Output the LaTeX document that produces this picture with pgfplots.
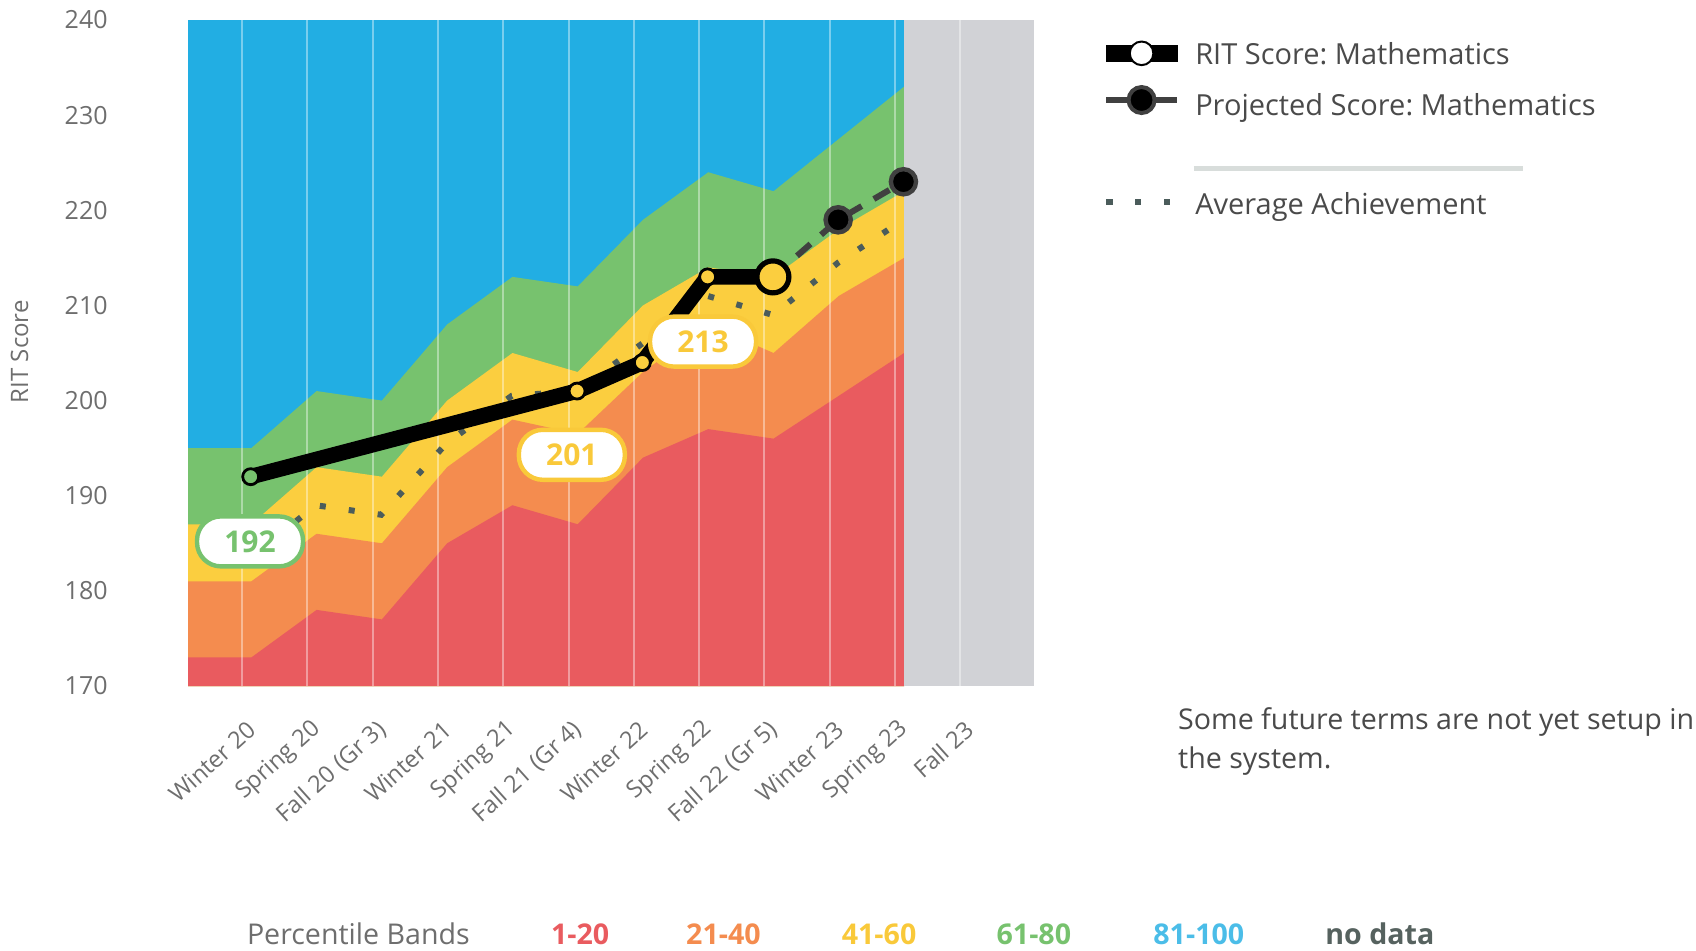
\documentclass[border=0pt]{standalone}
\usepackage{fontspec}
\setmainfont{Open Sans}
\usepackage{pgfplots}
\usepackage{pgfplotstable}
\pgfplotsset{compat=1.18}
\frenchspacing

\definecolor{bandblue}{HTML}{22AEE3}
\definecolor{bandgreen}{HTML}{77C26E}
\definecolor{bandyellow}{HTML}{FBCE3F}
\definecolor{bandorange}{HTML}{F48C4F}
\definecolor{bandred}{HTML}{E95B5F}
\definecolor{nodata}{HTML}{D1D2D6}
\definecolor{avgdot}{HTML}{4B5C5B}
\definecolor{projgray}{HTML}{404040}
\definecolor{ticktext}{HTML}{6E6E6E}
\definecolor{legtext}{HTML}{4A4A4A}
\definecolor{seprule}{HTML}{D8DDDB}
\definecolor{lblyellow}{HTML}{F9C93A}
\definecolor{lblblue}{HTML}{4BBDE8}
\definecolor{lblgray}{HTML}{56625F}

% upper edge of each percentile band; vertices sit a little right of the term gridlines
\pgfplotstableread{
x      red    orange  yellow  green
-0.83  173    181     187     195
0.14   173    181     187     195
1.14   178    186     193     201
2.14   177    185     192     200
3.14   185    193     200     208
4.14   189    198     205     213
5.14   187    196.5   203     212
6.14   194    203     210     219
7.14   197    208     214     224
8.14   196    205     213     222
9.14   200.5  211     218     227.5
10.14  205    215     222     233
}\bands

\pgfplotstableread{
x     avg
0.13  183.5
1.13  189
2.13  188
3.13  195.5
4.13  200.5
5.13  201
6.13  206
7.13  211
8.13  209
9.13  214.5
10.13 219
}\avgach

\begin{document}
\begin{tikzpicture}
\useasboundingbox (0,0) rectangle (848pt,475pt);
\begin{axis}[
  at={(94pt,132pt)}, anchor=south west,
  scale only axis, width=423pt, height=333pt,
  xmin=-0.83, xmax=12.13, ymin=170, ymax=240,
  axis line style={draw=none},
  major tick length=0pt,
  xtick={0,...,11},
  xticklabels={Winter 20, Spring 20, Fall 20 (Gr 3), Winter 21, Spring 21, Fall 21 (Gr 4), Winter 22, Spring 22, Fall 22 (Gr 5), Winter 23, Spring 23, Fall 23},
  ytick={170,180,...,240},
  /pgf/number format/assume math mode=true,
  yticklabel style={font=\fontsize{12.5}{14}\selectfont, text=ticktext, anchor=east, inner sep=0pt, xshift=-40pt},
  xticklabel style={font=\fontsize{11.8}{14}\selectfont, text=ticktext, inner sep=0pt, xshift=5pt, yshift=-20pt, rotate=42, anchor=east},
  every axis y label/.style={at={(axis description cs:-0.199,0.502)}, rotate=90, anchor=center, font=\fontsize{12}{14}\selectfont, text=ticktext},
  ylabel={RIT Score},
  legend style={at={(1.0814,0.9692)}, anchor=north west, draw=none, fill=none,
    inner sep=0pt, outer sep=0pt, row sep=7.2pt, column sep=7.5pt,
    font=\fontsize{14.5}{16}\selectfont, text=legtext,
    nodes={inner sep=0pt, text height=10pt, text depth=3pt}},
  legend cell align=left,
]
% bands
\addplot[fill=bandblue, draw=none, forget plot] coordinates {(-0.83,240) (10.14,240)} \closedcycle;
\addplot[fill=bandgreen, draw=none, forget plot] table[x=x, y=green] {\bands} \closedcycle;
\addplot[fill=bandyellow, draw=none, forget plot] table[x=x, y=yellow] {\bands} \closedcycle;
\addplot[fill=bandorange, draw=none, forget plot] table[x=x, y=orange] {\bands} \closedcycle;
\addplot[fill=bandred, draw=none, forget plot] table[x=x, y=red] {\bands} \closedcycle;
\addplot[fill=nodata, draw=none, forget plot] coordinates {(10.14,240) (12.13,240)} \closedcycle;
% term gridlines
\addplot[ycomb, white, opacity=0.4, line width=1pt, forget plot] coordinates {
  (0,240) (1,240) (2,240) (3,240) (4,240) (5,240) (6,240) (7,240) (8,240) (9,240) (10,240) (11,240)};

% average achievement
\addplot[avgdot, line width=3pt, dash pattern=on 3pt off 11.6pt, forget plot] table[x=x, y=avg] {\avgach};
% projected
\addplot[projgray, line width=3pt, dash pattern=on 9pt off 7pt, forget plot] coordinates {(8.13,213) (9.13,219) (10.13,223)};
\addplot[only marks, mark=*, mark size=6.3pt, mark options={fill=black, draw=projgray, line width=2.2pt}, forget plot]
  coordinates {(9.13,219) (10.13,223)};
% RIT score
\addplot[black, line width=7.8pt, line join=round, forget plot] coordinates {(0.13,192) (5.13,201) (6.13,204) (7.13,213) (8.13,213)};
\addplot[only marks, mark=*, mark size=4pt, mark options={fill=bandgreen, draw=black, line width=1.4pt}, forget plot]
  coordinates {(0.13,192)};
\addplot[only marks, mark=*, mark size=4pt, mark options={fill=bandyellow, draw=black, line width=1.4pt}, forget plot]
  coordinates {(5.13,201) (6.13,204) (7.13,213)};
\addplot[only marks, mark=*, mark size=8pt, mark options={fill=bandyellow, draw=black, line width=2.6pt}, forget plot]
  coordinates {(8.13,213)};

\tikzset{pill/.style={fill=white, line width=2.2pt, rounded corners=12pt, minimum width=53pt, minimum height=25pt, inner sep=0pt, font=\fontsize{15}{17}\selectfont\bfseries}}
\node[pill, draw=bandgreen, text=bandgreen] at (axis cs:0.12,185.2) {192};
\node[pill, draw=lblyellow, text=lblyellow] at (axis cs:5.05,194.3) {201};
\node[pill, draw=lblyellow, text=lblyellow] at (axis cs:7.06,206.2) {213};

% legend
\addlegendimage{black, legend image code/.code={
  \path[draw=none, fill=none] (0pt,0pt) rectangle (35.5pt,0pt);
  \fill[black] (0pt,-1.95pt) rectangle (35.5pt,6.25pt);
  \draw[black, line width=1pt, fill=white] (17.75pt,2.15pt) circle (5.9pt);}}
\addlegendentry{RIT Score: Mathematics}
\addlegendimage{black, legend image code/.code={
  \path[draw=none, fill=none] (0pt,0pt) rectangle (35.5pt,0pt);
  \draw[projgray, line width=3.2pt] (0pt,4pt) -- (35.5pt,4pt);
  \draw[projgray, line width=2pt, fill=black] (17.75pt,4pt) circle (6.5pt);}}
\addlegendentry{Projected Score: Mathematics}
\addlegendimage{black, legend image code/.code={\path[draw=none, fill=none] (0pt,0pt) rectangle (35.5pt,0pt);}}
\addlegendentry[text height=19.2pt]{}
\addlegendimage{black, legend image code/.code={
  \path[draw=none, fill=none] (0pt,0pt) rectangle (35.5pt,0pt);
  \fill[avgdot] (0.35pt,1.45pt) rectangle ++(2.7pt,2.7pt);
  \fill[avgdot] (14.55pt,1.45pt) rectangle ++(2.7pt,2.7pt);
  \fill[avgdot] (29.15pt,1.45pt) rectangle ++(2.7pt,2.7pt);}}
\addlegendentry{Average Achievement}
\end{axis}

\draw[seprule, line width=2.5pt] (596.9pt,390.8pt) -- (761.4pt,390.8pt);

\begin{scope}[every node/.style={anchor=base west, inner sep=0pt, font=\fontsize{14.3}{16}\selectfont}]
\node[text=ticktext] at (123.3pt,2.6pt) {Percentile Bands};
\node[text=bandred, font=\fontsize{14.3}{16}\selectfont\bfseries] at (275.3pt,2.6pt) {1-20};
\node[text=bandorange, font=\fontsize{14.3}{16}\selectfont\bfseries] at (342.9pt,2.6pt) {21-40};
\node[text=lblyellow, font=\fontsize{14.3}{16}\selectfont\bfseries] at (420.7pt,2.6pt) {41-60};
\node[text=bandgreen, font=\fontsize{14.3}{16}\selectfont\bfseries] at (498.1pt,2.6pt) {61-80};
\node[text=lblblue, font=\fontsize{14.3}{16}\selectfont\bfseries] at (576.5pt,2.6pt) {81-100};
\node[text=lblgray, font=\fontsize{14.3}{16}\selectfont\bfseries] at (662.5pt,2.6pt) {no data};
\node[text=legtext] at (588.9pt,110.3pt) {Some future terms are not yet setup in};
\node[text=legtext] at (588.9pt,90.8pt) {the system.};
\end{scope}
\end{tikzpicture}
\end{document}
